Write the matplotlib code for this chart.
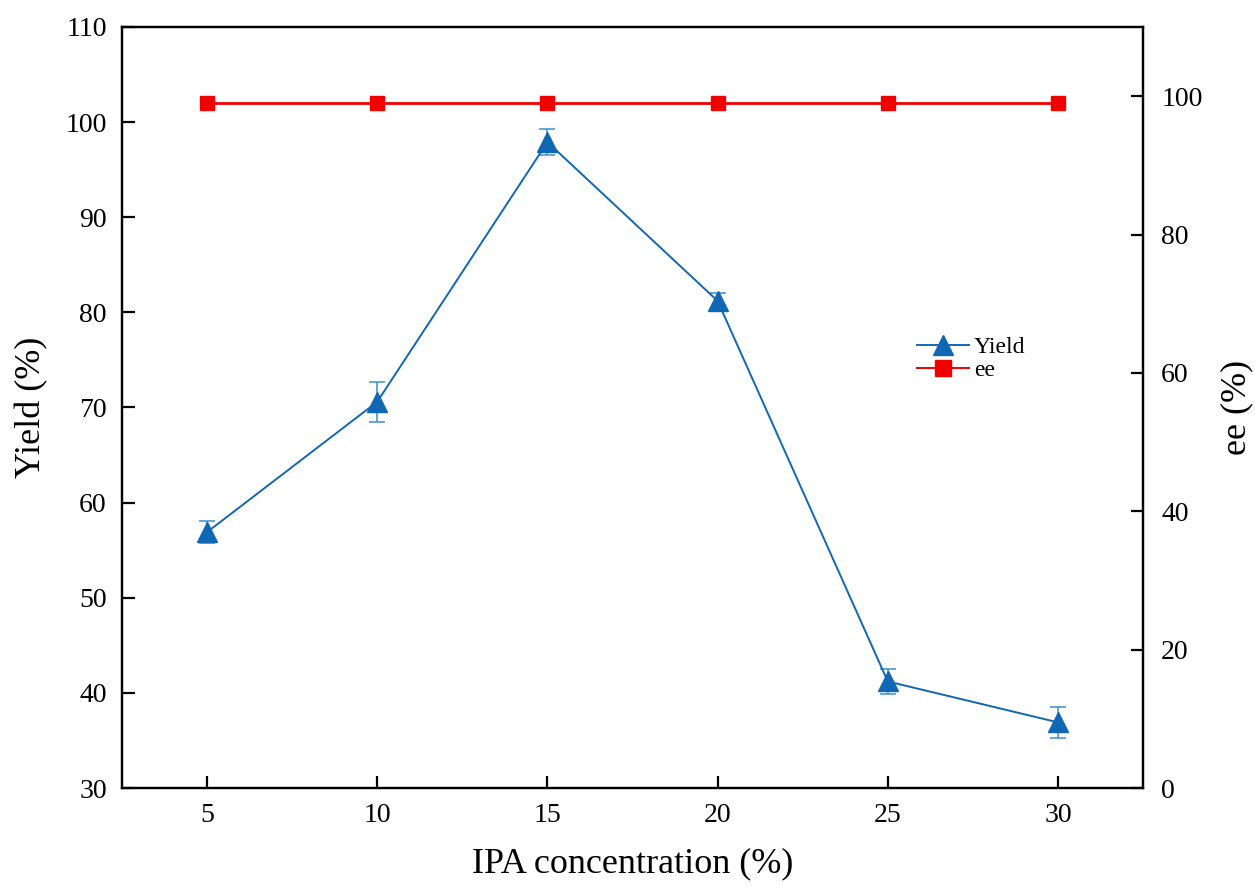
import matplotlib.pyplot as plt
from matplotlib.lines import Line2D

plt.rcParams["font.family"] = ["Liberation Serif", "DejaVu Serif"]

# data
ipa = [5, 10, 15, 20, 25, 30]
yield_pct = [56.9, 70.6, 97.9, 81.2, 41.2, 36.9]
yield_err = [1.15, 2.1, 1.35, 0.85, 1.3, 1.6]
ee_pct = [99, 99, 99, 99, 99, 99]

BLUE = "#1068b4"
RED = "#f00000"

fig = plt.figure(figsize=(12.55, 8.91), dpi=100)
ax = fig.add_axes([0.0972, 0.1156, 0.8136, 0.8541])
ax2 = ax.twinx()

ax.errorbar(ipa, yield_pct, yerr=yield_err, color=BLUE, lw=1.4,
            marker="^", markersize=14, capsize=5.5, elinewidth=1.1,
            capthick=1.1, ecolor="#3a8fd0", zorder=3)
ax2.plot(ipa, ee_pct, color=RED, lw=2.0, marker="s", markersize=10.5, zorder=3)

ax.set_xlim(2.5, 32.5)
ax.set_ylim(30, 110)
ax.set_xticks(ipa)
ax.set_yticks(range(30, 111, 10))
ax2.set_ylim(0, 110)
ax2.set_yticks(range(0, 101, 20))

for a in (ax, ax2):
    for sp in a.spines.values():
        sp.set_linewidth(1.6)
    a.tick_params(direction="in", length=9, width=1.6, labelsize=20, pad=11)
ax.tick_params(axis="x", pad=11)
ax2.tick_params(axis="y", pad=13)

ax.set_xlabel("IPA concentration (%)", fontsize=26, labelpad=14)
ax.set_ylabel("Yield (%)", fontsize=26, labelpad=12)
ax2.set_ylabel("ee (%)", fontsize=26, labelpad=13)

handles = [
    Line2D([], [], color=BLUE, lw=1.4, marker="^", markersize=14),
    Line2D([], [], color=RED, lw=1.4, marker="s", markersize=11),
]
fig.legend(handles, ["Yield", "ee"], loc="center left",
           bbox_to_anchor=(0.714, 0.597), frameon=False, fontsize=17,
           handlelength=2.2, handletextpad=0.2, labelspacing=0.05)

fig.savefig("out.png", dpi=100)
